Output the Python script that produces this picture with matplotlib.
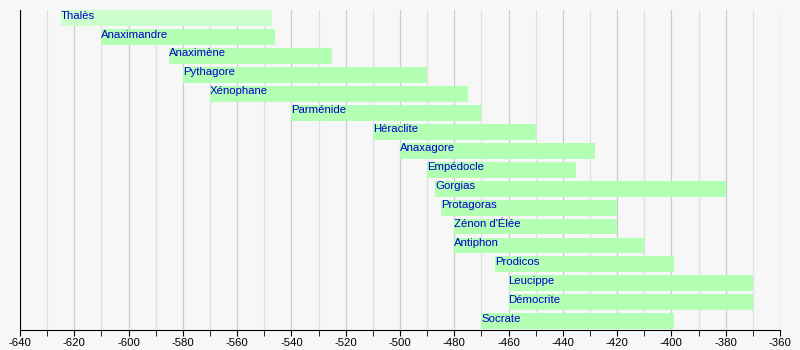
import matplotlib
matplotlib.use("Agg")
import matplotlib.pyplot as plt
from matplotlib.ticker import MultipleLocator

names = ["Thalès", "Anaximandre", "Anaximène", "Pythagore", "Xénophane",
         "Parménide", "Héraclite", "Anaxagore", "Empédocle", "Gorgias",
         "Protagoras", "Zénon d'Élée", "Antiphon", "Prodicos", "Leucippe",
         "Démocrite", "Socrate"]
starts = [-625, -610, -585, -580, -570, -540, -510, -500, -490, -487,
          -485, -480, -480, -465, -460, -460, -470]
ends = [-547, -546, -525, -490, -475, -470, -450, -428, -435, -380,
        -420, -420, -410, -399, -370, -370, -399]

plt.rcParams["font.family"] = ["Liberation Sans", "DejaVu Sans"]

fig = plt.figure(figsize=(8, 3.5), dpi=100, facecolor="#f7f7f7")
ax = fig.add_axes([0.025, 0.057, 0.95, 0.9145])
ax.set_facecolor("#f7f7f7")

bar_h = 0.84
for i, (n, s, e) in enumerate(zip(names, starts, ends)):
    color = "#ccffcc" if i == 0 else "#b3ffb3"
    ax.barh(i, e - s, left=s, height=bar_h, align="edge", color=color,
            zorder=2, linewidth=0)
    ax.text(s, i + 0.03, n, color="#0000cc", fontsize=8.2, va="top",
            ha="left", zorder=3)

ax.set_xlim(-640, -360)
ax.set_ylim(len(names) - 0.12, 0)
ax.xaxis.set_major_locator(MultipleLocator(20))
ax.xaxis.set_minor_locator(MultipleLocator(10))
ax.grid(True, which="major", axis="x", color="#cccccc", linewidth=0.9, zorder=0)
ax.grid(True, which="minor", axis="x", color="#e0e0e0", linewidth=0.9, zorder=0)
ax.set_yticks([])
ax.spines["top"].set_visible(False)
ax.spines["right"].set_visible(False)
ax.spines["left"].set_color("black")
ax.spines["bottom"].set_color("black")
ax.tick_params(axis="x", which="both", direction="out", length=4,
               labelsize=8.2, pad=2, colors="black")
ax.set_xticklabels([f"{int(v)}" for v in ax.get_xticks()])

fig.savefig("out.png", dpi=100, facecolor=fig.get_facecolor())
